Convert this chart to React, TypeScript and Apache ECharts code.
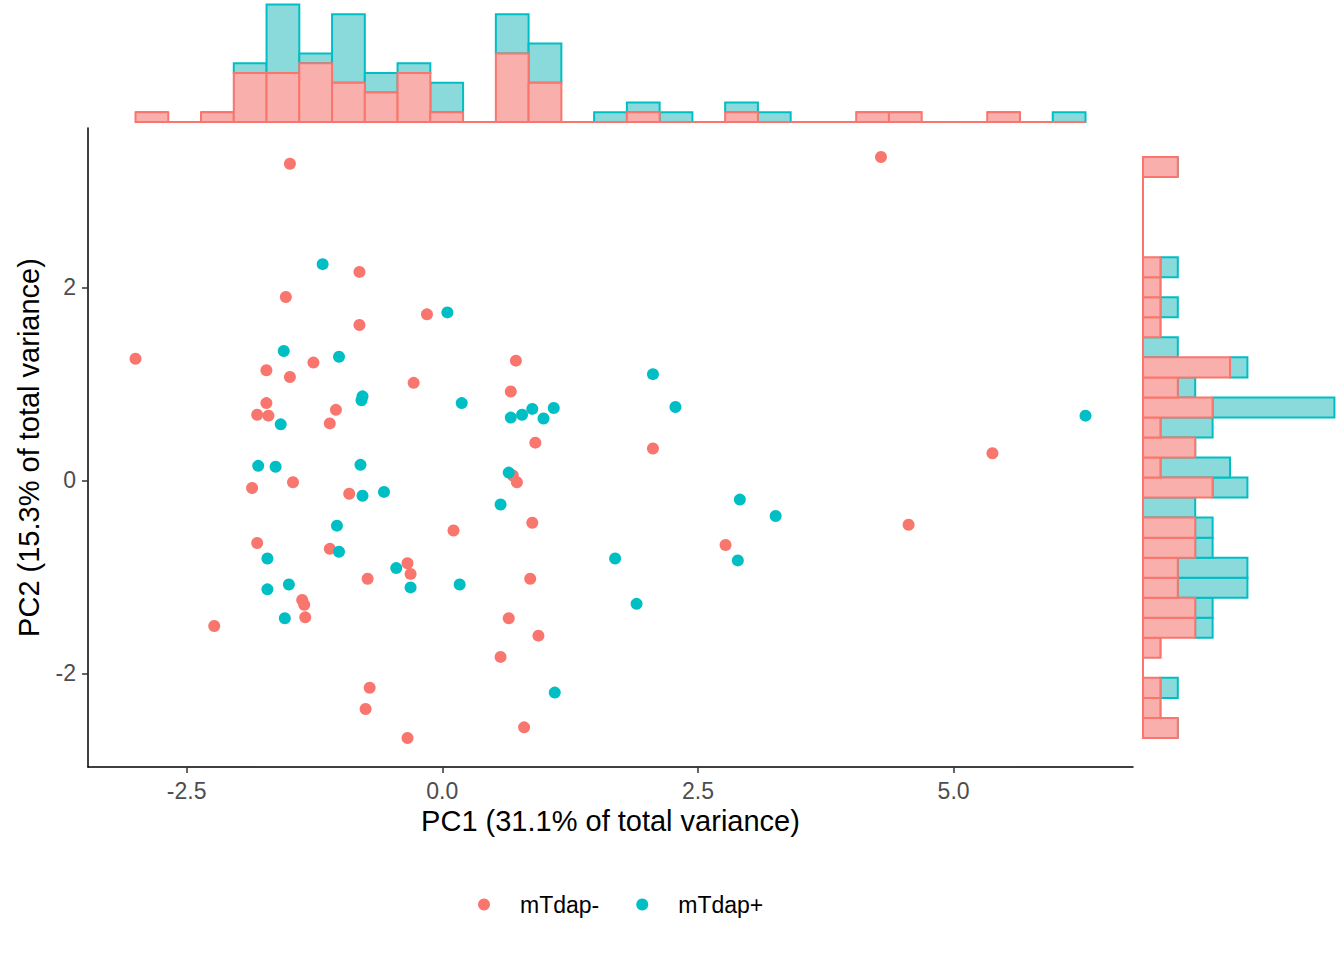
import { useEffect, useRef } from "react";
import * as echarts from "echarts";

// PCA scores, [PC1, PC2]
const mTdapNeg: [number, number][] = [
  [-1.49, 3.28], [-0.81, 2.16], [-1.53, 1.9], [-0.15, 1.72], [-0.81, 1.61],
  [-3.0, 1.26], [-1.26, 1.22], [-1.72, 1.14], [-1.49, 1.07], [-0.28, 1.01],
  [-1.72, 0.8], [-1.81, 0.68], [-1.7, 0.67], [-1.04, 0.73], [-1.1, 0.59],
  [-1.46, -0.02], [-1.86, -0.08], [-0.91, -0.14], [0.11, -0.52], [-1.81, -0.65],
  [-1.1, -0.71], [-0.34, -0.86], [-0.31, -0.97], [-0.73, -1.02], [-1.37, -1.24],
  [-1.35, -1.29], [-1.34, -1.42], [-2.23, -1.51], [-0.71, -2.15], [-0.75, -2.37],
  [-0.34, -2.67], [0.72, 1.24], [0.67, 0.92], [0.91, 0.39], [2.06, 0.33],
  [0.69, 0.05], [0.73, -0.02], [0.88, -0.44], [2.77, -0.67], [0.86, -1.02],
  [0.65, -1.43], [0.94, -1.61], [0.57, -1.83], [0.8, -2.56], [4.29, 3.35],
  [5.38, 0.28], [4.56, -0.46],
];

const mTdapPos: [number, number][] = [
  [-1.17, 2.24], [0.05, 1.74], [-1.55, 1.34], [-1.01, 1.28], [-0.78, 0.87],
  [-0.79, 0.83], [0.19, 0.8], [-1.58, 0.58], [-1.8, 0.15], [-1.63, 0.14],
  [-0.8, 0.16], [-0.78, -0.16], [-0.57, -0.12], [-1.03, -0.47], [-1.01, -0.74],
  [-1.71, -0.81], [-0.45, -0.91], [-0.31, -1.11], [0.17, -1.08], [-1.5, -1.08],
  [-1.71, -1.13], [-1.54, -1.43], [0.67, 0.65], [0.78, 0.68], [0.88, 0.74],
  [0.99, 0.64], [1.09, 0.75], [2.06, 1.1], [2.28, 0.76], [0.65, 0.08],
  [0.57, -0.25], [2.91, -0.2], [3.26, -0.37], [1.69, -0.81], [2.89, -0.83],
  [1.9, -1.28], [1.1, -2.2], [6.29, 0.67],
];

// marginal histogram counts, 29 bins each, lowest value first
const pc1CountsNeg = [1, 0, 1, 5, 5, 6, 4, 3, 5, 1, 0, 7, 4, 0, 0, 1, 0, 0, 1, 0, 0, 0, 1, 1, 0, 0, 1, 0, 0];
const pc1CountsPos = [0, 0, 0, 1, 7, 1, 7, 2, 1, 3, 0, 4, 4, 0, 1, 1, 1, 0, 1, 1, 0, 0, 0, 0, 0, 0, 0, 0, 1];
const pc2CountsNeg = [2, 1, 1, 0, 1, 3, 3, 2, 2, 3, 3, 0, 4, 1, 3, 1, 4, 2, 5, 0, 1, 1, 1, 1, 0, 0, 0, 0, 2];
const pc2CountsPos = [0, 0, 1, 0, 0, 1, 1, 4, 4, 1, 1, 3, 2, 4, 0, 3, 7, 1, 1, 2, 0, 1, 0, 1, 0, 0, 0, 0, 0];

const groupNames = ["mTdap-", "mTdap+"];
const xTicks = [-2.5, 0, 2.5, 5];
const yTicks = [-2, 0, 2];

const FONT = "Liberation Sans, Arial, sans-serif";
const RED = "#F8766D";
const TEAL = "#00BFC4";

const extent = (vals: number[]) => [Math.min(...vals), Math.max(...vals)];

// bins from data min to max, second group stacked on the first
const stackBins = (lo: number, hi: number, under: number[], over: number[]) => {
  const w = (hi - lo) / under.length;
  return {
    base: under.map((c, i) => [lo + i * w, lo + (i + 1) * w, 0, c]),
    top: over.map((c, i) => [lo + i * w, lo + (i + 1) * w, under[i], under[i] + c]),
  };
};

const barRender =
  (horizontal: boolean, fill: string, stroke: string) => (_params: any, api: any) => {
    const b0 = api.value(0);
    const b1 = api.value(1);
    const c0 = api.value(2);
    const c1 = api.value(3);
    const p0 = horizontal ? api.coord([b0, c0]) : api.coord([c0, b0]);
    const p1 = horizontal ? api.coord([b1, c1]) : api.coord([c1, b1]);
    return {
      type: "rect",
      shape: {
        x: Math.min(p0[0], p1[0]),
        y: Math.min(p0[1], p1[1]),
        width: Math.abs(p1[0] - p0[0]),
        height: Math.abs(p1[1] - p0[1]),
      },
      style: { fill, stroke, lineWidth: 2 },
    };
  };

const App = () => {
  const chartRef = useRef<HTMLDivElement>(null);

  useEffect(() => {
    if (!chartRef.current) return;
    const chart = echarts.init(chartRef.current, null, { renderer: "svg" });

    const [xMin, xMax] = extent([...mTdapNeg, ...mTdapPos].map((p) => p[0]));
    const [yMin, yMax] = extent([...mTdapNeg, ...mTdapPos].map((p) => p[1]));
    const xPad = (xMax - xMin) * 0.05;
    const yPad = (yMax - yMin) * 0.05;
    const xLo = xMin - xPad;
    const xHi = xMax + xPad;
    const yLo = yMin - yPad;
    const yHi = yMax + yPad;

    const topBins = stackBins(xMin, xMax, pc1CountsNeg, pc1CountsPos);
    const sideBins = stackBins(yMin, yMax, pc2CountsNeg, pc2CountsPos);

    const hidden = { show: false };

    const options = {
      animation: false,
      backgroundColor: "#ffffff",
      textStyle: { fontFamily: FONT },
      grid: [
        { left: 88, top: 128, width: 1045, height: 639 },
        { left: 88, top: 0, width: 1045, height: 122 },
        { left: 1143, top: 128, width: 201, height: 639 },
      ],
      legend: {
        data: groupNames,
        left: 478,
        top: 893,
        padding: 0,
        icon: "circle",
        itemWidth: 62,
        itemHeight: 12,
        itemGap: 37,
        selectedMode: false,
        textStyle: { fontSize: 23, color: "#000", fontFamily: FONT },
      },
      xAxis: [
        {
          type: "value",
          gridIndex: 0,
          min: xLo,
          max: xHi,
          name: "PC1 (31.1% of total variance)",
          nameLocation: "middle",
          nameGap: 38,
          nameTextStyle: { color: "#000", fontSize: 29, fontFamily: FONT },
          axisLine: { onZero: false, lineStyle: { color: "#000", width: 1.5 } },
          axisTick: { customValues: xTicks, length: 6, lineStyle: { color: "#333", width: 1.5 } },
          axisLabel: {
            customValues: xTicks,
            formatter: (v: number) => v.toFixed(1),
            color: "#4D4D4D",
            fontSize: 23,
            margin: 12,
            fontFamily: FONT,
          },
          splitLine: hidden,
        },
        { type: "value", gridIndex: 1, min: xLo, max: xHi, show: false },
        { type: "value", gridIndex: 2, min: 0, max: 11.55, show: false },
      ],
      yAxis: [
        {
          type: "value",
          gridIndex: 0,
          min: yLo,
          max: yHi,
          name: "PC2 (15.3% of total variance)",
          nameLocation: "middle",
          nameRotate: 90,
          nameGap: 45,
          nameTextStyle: { color: "#000", fontSize: 29, fontFamily: FONT },
          axisLine: { onZero: false, lineStyle: { color: "#000", width: 1.5 } },
          axisTick: { customValues: yTicks, length: 6, lineStyle: { color: "#333", width: 1.5 } },
          axisLabel: {
            customValues: yTicks,
            formatter: (v: number) => String(v),
            color: "#4D4D4D",
            fontSize: 23,
            margin: 12,
            fontFamily: FONT,
          },
          splitLine: hidden,
        },
        { type: "value", gridIndex: 1, min: 0, max: 12.45, show: false },
        { type: "value", gridIndex: 2, min: yLo, max: yHi, show: false },
      ],
      series: [
        {
          name: "PC1 hist mTdap+",
          type: "custom",
          xAxisIndex: 1,
          yAxisIndex: 1,
          renderItem: barRender(true, "#8AD9DB", TEAL),
          encode: { x: [0, 1], y: [2, 3] },
          data: topBins.top,
        },
        {
          name: "PC1 hist mTdap-",
          type: "custom",
          xAxisIndex: 1,
          yAxisIndex: 1,
          renderItem: barRender(true, "#F9AFAB", RED),
          encode: { x: [0, 1], y: [2, 3] },
          data: topBins.base,
        },
        {
          name: "PC2 hist mTdap+",
          type: "custom",
          xAxisIndex: 2,
          yAxisIndex: 2,
          renderItem: barRender(false, "#8AD9DB", TEAL),
          encode: { y: [0, 1], x: [2, 3] },
          data: sideBins.top,
        },
        {
          name: "PC2 hist mTdap-",
          type: "custom",
          xAxisIndex: 2,
          yAxisIndex: 2,
          renderItem: barRender(false, "#F9AFAB", RED),
          encode: { y: [0, 1], x: [2, 3] },
          data: sideBins.base,
        },
        {
          name: groupNames[0],
          type: "scatter",
          xAxisIndex: 0,
          yAxisIndex: 0,
          symbolSize: 12,
          itemStyle: { color: RED, opacity: 1 },
          data: mTdapNeg,
        },
        {
          name: groupNames[1],
          type: "scatter",
          xAxisIndex: 0,
          yAxisIndex: 0,
          symbolSize: 12,
          itemStyle: { color: TEAL, opacity: 1 },
          data: mTdapPos,
        },
      ],
    };

    chart.setOption(options);

    return () => {
      chart.dispose();
    };
  }, []);

  return (
    <div
      ref={chartRef}
      style={{ position: "fixed", left: 0, top: 0, width: "1344px", height: "960px" }}
    />
  );
};

export default App;
